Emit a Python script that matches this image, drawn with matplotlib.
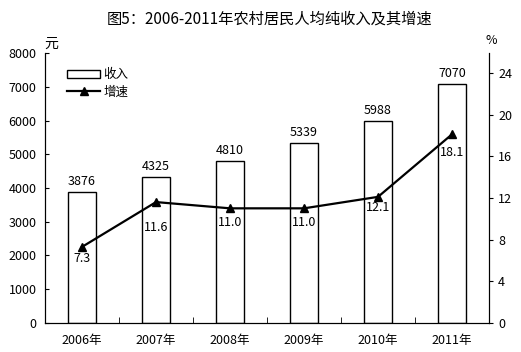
import matplotlib
matplotlib.use("Agg")
import matplotlib.pyplot as plt
import numpy as np

plt.rcParams['font.family'] = ['Noto Sans CJK SC', 'DejaVu Sans']

years = ["2006年", "2007年", "2008年", "2009年", "2010年", "2011年"]
income = [3876, 4325, 4810, 5339, 5988, 7070]
growth = [7.3, 11.6, 11.0, 11.0, 12.1, 18.1]
growth_labels = ["7.3", "11.6", "11.0", "11.0", "12.1", "18.1"]

fig = plt.figure(figsize=(5.21, 3.52), dpi=100)
ax = fig.add_axes([0.0864, 0.0824, 0.8522, 0.767])
ax2 = ax.twinx()

x = np.arange(len(years))
bars = ax.bar(x, income, width=0.39, color="white", edgecolor="black", linewidth=1, label="收入")
for xi, v in zip(x, income):
    ax.annotate(str(v), (xi, v), xytext=(0, 3), textcoords="offset points",
                ha="center", va="bottom", fontsize=9)

ax.set_xlim(-0.5, len(years) - 0.5)
ax.set_ylim(0, 8000)
ax.set_yticks(range(0, 8001, 1000))
ax.tick_params(axis="y", direction="in", length=3, labelsize=9, pad=6)
ax.set_xticks(x)
ax.set_xticklabels(years, fontsize=9)
ax.tick_params(axis="x", length=0, pad=8)
ax.set_xticks(np.arange(0.5, len(years) - 0.5, 1), minor=True)
ax.tick_params(axis="x", which="minor", direction="in", length=4)
ax.spines["top"].set_visible(False)

line, = ax2.plot(x, growth, color="black", linewidth=1.6, marker="^", markersize=5.5, label="增速")
offsets = [12, 25, 14, 14, 11, 18]
for xi, v, lab, off in zip(x, growth, growth_labels, offsets):
    ax2.annotate(lab, (xi, v), xytext=(0, -off * 0.72), textcoords="offset points",
                 ha="center", va="center", fontsize=9)
ax2.set_ylim(0, 25.9)
ax2.set_yticks(range(0, 25, 4))
ax2.tick_params(axis="y", direction="out", length=3, labelsize=9)
ax2.spines["top"].set_visible(False)

fig.text(0.518, 0.945, "图5：2006-2011年农村居民人均纯收入及其增速", ha="center", va="center", fontsize=11)
fig.text(0.098, 0.875, "元", ha="center", va="center", fontsize=10)
fig.text(0.942, 0.885, "%", ha="center", va="center", fontsize=9)

ax.legend([bars, line], ["收入", "增速"], loc="upper left", bbox_to_anchor=(0.025, 0.985),
          frameon=False, fontsize=9, handlelength=2.6, handleheight=0.6,
          handletextpad=0.3, labelspacing=0.35)

fig.savefig("out.png", dpi=100)
